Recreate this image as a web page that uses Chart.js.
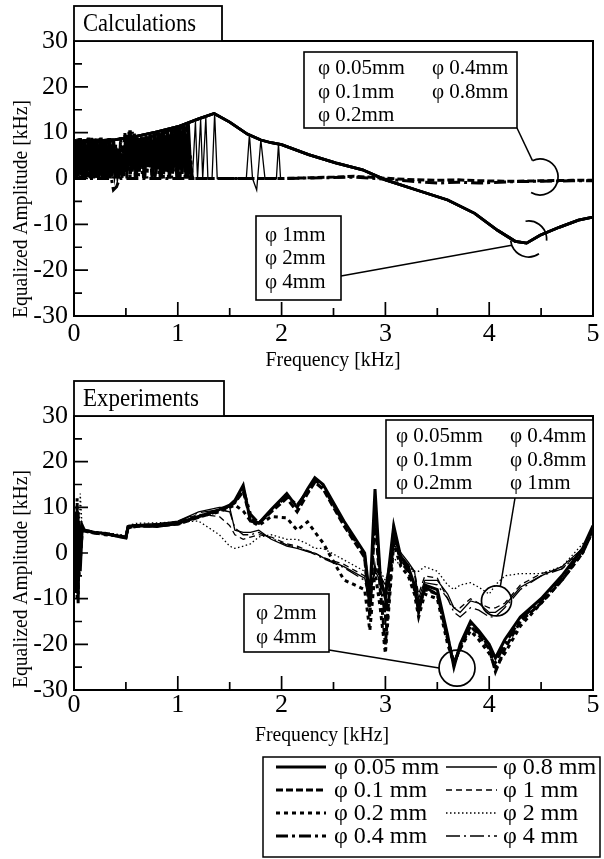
<!DOCTYPE html>
<html>
<head>
<meta charset="utf-8">
<title>Equalized amplitude vs frequency</title>
<script src="https://cdn.jsdelivr.net/npm/chart.js@4.4.1/dist/chart.umd.min.js"></script>
<style>
  html, body { margin: 0; padding: 0; background: #fff; }
  body { width: 604px; height: 859px; position: relative; overflow: hidden; }
  canvas { position: absolute; left: 0; }
  #calc-chart { top: 0; }
  #exp-chart { top: 380px; }
</style>
</head>
<body>
<canvas id="calc-chart" width="604" height="380"></canvas>
<canvas id="exp-chart" width="604" height="479"></canvas>
<script>
const SERIF = "'Liberation Serif', 'Times New Roman', serif";
const PHI = "\u03c6";

const diameterLabels = ["0.05 mm", "0.1 mm", "0.2 mm", "0.4 mm", "0.8 mm", "1 mm", "2 mm", "4 mm"];

const xMajorTicks = [0, 1, 2, 3, 4, 5];
const xMinorTicks = [0.5, 1.5, 2.5, 3.5, 4.5];
const yMajorTicks = [-30, -20, -10, 0, 10, 20, 30];
const yMinorTicks = [-25, -15, -5, 5, 15, 25];

// ---- Calculations (top panel) ----
const calcBandFreq = [0.00, 0.02, 0.04, 0.06, 0.08, 0.10, 0.12, 0.14, 0.16, 0.18, 0.20, 0.22, 0.24, 0.26, 0.28,
  0.30, 0.32, 0.34, 0.36, 0.38, 0.40, 0.42, 0.44, 0.46, 0.48, 0.50, 0.52, 0.54, 0.56, 0.58, 0.60, 0.62, 0.64,
  0.66, 0.68, 0.70, 0.72, 0.74, 0.76, 0.78, 0.80, 0.82, 0.84, 0.86, 0.88, 0.90, 0.92, 0.94, 0.96, 0.98, 1.00,
  1.02, 1.04, 1.06, 1.08, 1.10, 1.12, 1.14];
const calcBand005 = [0, 8.5, 0.5, 8.8, 0, 8.6, 0.3, 8.9, 0, 8.4, 0.5, 8.7, 0, 8.9, 0.2, 8.5, 0, 8.8, 0.4, 8.6,
  0, 6.5, 1, 5.5, 0.5, 9.5, 2, 10.5, 1.5, 9.8, 0, 8.8, 2.5, 9, 0, 9.2, 3, 9.5, 0.5, 9.8,
  2, 10, 0, 10.3, 1.5, 10.6, 0, 10.8, 2.5, 11, 0, 11.3, 1, 11.6, 0, 11.9, 3, 0];
const calcBand02 = [8.2, 0.3, 8.7, 0, 8.5, 0.4, 8.9, 0, 8.6, 0.2, 8.8, 0, 8.4, 0.5, 8.7, 0, 8.9, 0.3, 8.5, 0,
  7.5, 1.5, 5, 0, 6.5, 1, 9.8, 0, 10.2, 2, 9.4, 0.5, 8.6, 1, 9.1, 0, 9.3, 2, 9.6, 0,
  9.9, 1, 10.1, 0, 10.4, 2, 10.7, 0, 10.9, 1.5, 11.1, 0, 11.4, 2.5, 11.7, 0, 5, 0];

// 0.1 mm: oscillating band (odd 0.01 steps) then along the zero line
const calcFreq01 = [0.01, 0.03, 0.05, 0.07, 0.09, 0.11, 0.13, 0.15, 0.17, 0.19, 0.21, 0.23, 0.25, 0.27, 0.29,
  0.31, 0.33, 0.35, 0.37, 0.39, 0.41, 0.43, 0.45, 0.47, 0.49, 0.51, 0.53, 0.55, 0.57, 0.59, 0.61, 0.63, 0.65,
  0.67, 0.69, 0.71, 0.73, 0.75, 0.77, 0.79, 0.81, 0.83, 0.85, 0.87, 0.89, 0.91, 0.93, 0.95, 0.97, 0.99, 1.01,
  1.03, 1.05, 1.07, 1.09, 1.11, 1.13,
  1.16, 1.5, 2.0, 2.5, 2.7, 2.9, 3.2, 3.5, 3.7, 3.9, 4.2, 4.5, 4.8, 5.0];
const calcAmp01 = [8.6, 0, 8.8, 0.4, 8.5, 0, 8.7, 0.3, 8.9, 0, 8.6, 0.2, 8.8, 0, 8.5, 0.4, 8.7, 0, 6, 1.5,
  5.8, 0, 9, 1, 10, 0, 10.2, 2, 9.3, 0, 8.9, 1.5, 9.1, 0, 9.4, 2.5, 9.7, 0, 10, 1,
  10.2, 0, 10.5, 2, 10.8, 0, 11, 1, 11.2, 0, 11.5, 2, 11.8, 0, 12, 1, 0,
  0, 0, 0, 0.3, 0.5, 0.2, -0.2, -0.4, -0.3, -0.5, -0.6, -0.5, -0.4, -0.4];

const calcZeroFreq = [0, 0.36, 0.38, 0.41, 0.44, 1.0, 1.5, 2.0, 2.5, 2.7, 2.9, 3.2, 3.5, 3.7, 3.9, 4.2, 4.5, 4.8, 5.0];
const calcZero04 = [0, 0, -2.5, -1.8, 0, 0, 0, 0, 0.2, 0.3, 0, -0.5, -1, -0.8, -1, -0.7, -0.6, -0.5, -0.5];

const calcSpikeFreq = [1.14, 1.17, 1.19, 1.22, 1.24, 1.27, 1.29, 1.33, 1.355, 1.38, 1.66, 1.69, 1.72, 1.76, 1.80, 1.84, 1.95, 1.97, 1.99];
const calcSpike08 = [0, 12.4, 0, 12.8, 0, 13.3, 0, 0, 14.2, 0, 0, 9.6, 0, -2.5, 8.4, 0, 0, 7.5, 0];

const calcCurveFreq = [0, 0.2, 0.4, 0.6, 0.8, 1.0, 1.2, 1.35, 1.5, 1.67, 1.8, 1.9, 2.0, 2.26, 2.52, 2.78, 3.0,
  3.3, 3.6, 3.86, 4.08, 4.25, 4.36, 4.49, 4.68, 4.86, 5.0];
const calcCurveLarge = [8, 8.2, 8.5, 9.2, 10.2, 11.3, 13, 14.2, 12.3, 9.7, 8.4, 7.8, 7.4, 5.2, 3.4, 1.9, -0.3,
  -2.5, -4.7, -7.6, -11.3, -13.7, -14.1, -12.4, -10.6, -9.1, -8.4];

// ---- Experiments (bottom panel) ----
const expFreq = [0, 0.01, 0.02, 0.03, 0.04, 0.05, 0.06, 0.08, 0.1, 0.2, 0.3, 0.45, 0.5, 0.52, 0.6, 0.8,
  1.0, 1.2, 1.4, 1.5, 1.55, 1.63, 1.7, 1.78, 1.9, 2.05, 2.15, 2.25, 2.32, 2.4, 2.6, 2.8,
  2.85, 2.9, 2.95, 3.0, 3.08, 3.15, 3.22, 3.28, 3.32, 3.38, 3.5, 3.6, 3.66, 3.72, 3.82, 3.9,
  4.0, 4.06, 4.15, 4.3, 4.5, 4.7, 4.9, 5.0];
const exp005 = [0, 9, -8, 10, -11, 7, -4, 6, 5, 4.5, 4.3, 3.5, 3.3, 5.8, 6, 5.8,
  6.5, 8, 9.5, 10.5, 11.5, 14.8, 7, 6.5, 9.5, 13, 10, 14, 16.5, 15, 7, 0,
  -10, 14, -5, -10, 6, -1, -3, -7, -13, -7, -8, -18, -25, -20, -15, -17,
  -20, -23, -19, -14, -10, -5, 1, 6];
const exp01 = [0, -6, 8, -10, 9, -5, 4, 5, 4.8, 4.3, 4.2, 3.6, 3.4, 5.5, 5.8, 6,
  6.3, 7.8, 9.2, 10.2, 11, 13.5, 7.5, 6.5, 9, 12, 9, 13, 15.5, 14, 6, -1,
  -14, 8, -8, -20, 4, -2, -4, -8, -12, -8, -9, -19, -24, -21, -16, -18,
  -21, -26, -21, -15, -11, -6, 0, 5];
const exp02 = [0, 5, -6, 12, -9, 4, -2, 5, 5, 4.4, 4, 3.7, 3.5, 5.5, 6, 6.2,
  6.6, 8, 9, 10, 10.5, 9.2, 7, 6, 8, 7.7, 5, 6.8, 4.6, 2.2, -5.9, -8,
  -17, -4, -12, -22, 2, -3, -5, -9, -14, -9, -10, -20, -24, -21, -17, -19,
  -22, -25, -22, -16, -11, -6, 0, 5];
const exp04 = [0, 7, -9, 8, -6, 5, 2, 5, 5, 4.5, 4.2, 3.6, 3.4, 5.6, 6, 5.9,
  6.4, 8, 9.4, 10.3, 11.2, 14, 8.5, 6.5, 9.3, 12.5, 10.5, 13.5, 16, 14.5, 6.5, -0.5,
  -12, 10, -6, -14, 5, -1.5, -3.5, -7.5, -12, -7.5, -9, -18.5, -24.5, -20.5, -15.5, -17.5,
  -20.5, -24, -20, -14.5, -10.5, -5.5, 0.5, 5.5];
const exp08 = [0, 4, -3, 6, -2, 3, 1, 5, 5, 4.6, 4.4, 3.8, 3.6, 6, 6.2, 6.4,
  7, 9, 10, 10, 5, 4.5, 4.5, 5, 3, 1.5, 1, 0.3, 0, -1, -3, -5.5,
  -10, -3, -5, -7, 3, 0, -2, -4, -10, -6, -6, -9, -12, -13, -10.5, -11,
  -13, -13, -11.5, -7.5, -5, -3, 1, 5];
const exp1 = [0, 3, -2, 5, -1, 4, 2, 5, 5, 4.5, 4.3, 3.8, 3.5, 5.8, 6, 6.2,
  6.8, 8.5, 8, 6, 4, 3, 3.5, 4, 3.5, 2, 1.5, 0.5, 0, -1, -2.5, -5,
  -9, -3.5, -5, -8, 1, -1, -2.5, -4, -9, -5, -5.5, -10, -12, -12, -10, -11,
  -12, -12, -11, -7, -4.5, -3.5, 1, 5];
const exp2 = [0, 3, -1, 4, 0, 3, 13, 5, 5.2, 4.6, 4.5, 4, 3.8, 6, 6.5, 6.6,
  6.8, 7, 4, 1.5, 1, 1.5, 2, 3.5, 4, 3, 3, 2, 1, 1, -1.5, -4,
  -7, -3, -4, -6, -1, -3, -3, -4, -4, -3, -4, -7, -8, -7, -6.5, -7.5,
  -9, -7, -5, -4.5, -4.5, -3, 2, 4];
const exp4 = [0, 5, -4, 7, -3, 2, 1, 5, 5, 4.5, 4.3, 3.7, 3.5, 5.9, 6.1, 6.3,
  6.9, 8.8, 9.5, 9, 5.5, 4, 4, 4.5, 3.2, 1.8, 1.2, 0.4, -0.3, -1.2, -3.2, -6,
  -11, -4, -6, -9, 2, -0.5, -2.5, -4.5, -11, -6.5, -7, -10, -13, -14, -12, -12.5,
  -14, -14, -12, -8, -5, -3.5, 0.5, 5];

const lineStyles = {
  "0.05 mm": { width: 3, dash: [] },
  "0.1 mm": { width: 3, dash: [7, 3] },
  "0.2 mm": { width: 3, dash: [4, 4] },
  "0.4 mm": { width: 3, dash: [12, 4, 3, 4] },
  "0.8 mm": { width: 1.3, dash: [] },
  "1 mm": { width: 1.3, dash: [6, 4] },
  "2 mm": { width: 1.3, dash: [1.5, 2.5] },
  "4 mm": { width: 1.3, dash: [14, 4, 2, 4] },
};

function toPoints(xs, ys) {
  return xs.map((x, i) => ({ x, y: ys[i] }));
}

function makeDataset(label, xs, ys, override) {
  const style = Object.assign({}, lineStyles[label], override || {});
  return {
    label,
    data: toPoints(xs, ys),
    borderColor: "#000",
    backgroundColor: "#000",
    borderWidth: style.width,
    borderDash: style.dash,
    pointRadius: 0,
    tension: 0,
    fill: false,
  };
}

function drawFitted(ctx, text, cx, cy, width, size, rotate) {
  ctx.save();
  ctx.font = `${size}px ${SERIF}`;
  const natural = ctx.measureText(text).width;
  ctx.translate(cx, cy);
  if (rotate) ctx.rotate(-Math.PI / 2);
  ctx.scale(width / natural, 1);
  ctx.textAlign = "center";
  ctx.textBaseline = "middle";
  ctx.fillStyle = "#000";
  ctx.fillText(text, 0, 0);
  ctx.restore();
}

function drawNote(ctx, note, xs, ys) {
  const cx = xs.getPixelForValue(note.mark.freq);
  const cy = ys.getPixelForValue(note.mark.amp);
  const r = note.mark.r;
  ctx.lineWidth = 1.7;
  note.mark.arcs.forEach(([a0, a1]) => {
    ctx.beginPath();
    ctx.arc(cx, cy, r, (a0 * Math.PI) / 180, (a1 * Math.PI) / 180);
    ctx.stroke();
  });
  const ang = (note.leader.angle * Math.PI) / 180;
  ctx.lineWidth = 1.5;
  ctx.beginPath();
  ctx.moveTo(note.leader.from[0], note.leader.from[1]);
  ctx.lineTo(cx + r * Math.cos(ang), cy + r * Math.sin(ang));
  ctx.stroke();

  const b = note.box;
  ctx.fillStyle = "#fff";
  ctx.fillRect(b.x, b.y, b.w, b.h);
  ctx.lineWidth = 1.6;
  ctx.strokeRect(b.x, b.y, b.w, b.h);
  ctx.fillStyle = "#000";
  ctx.font = `21px ${SERIF}`;
  ctx.textAlign = "left";
  ctx.textBaseline = "middle";
  note.rows.forEach((row, i) => {
    row.forEach((t, j) => ctx.fillText(`${PHI} ${t}`, b.x + note.colX[j], b.y + note.rowY[i]));
  });
}

function drawLegend(chart, lg) {
  const ctx = chart.ctx;
  ctx.lineWidth = 1.5;
  ctx.setLineDash([]);
  ctx.strokeRect(lg.x, lg.y, lg.w, lg.h);
  ctx.font = `24px ${SERIF}`;
  ctx.textAlign = "left";
  ctx.textBaseline = "middle";
  ctx.fillStyle = "#000";
  chart.data.datasets.forEach((ds, i) => {
    const col = Math.floor(i / 4);
    const y = lg.rowY[i % 4];
    const [x0, x1] = lg.sample[col];
    ctx.save();
    ctx.lineWidth = ds.borderWidth;
    ctx.setLineDash(ds.borderDash || []);
    ctx.beginPath();
    ctx.moveTo(x0, y);
    ctx.lineTo(x1, y);
    ctx.stroke();
    ctx.restore();
    ctx.fillText(`${PHI} ${ds.label}`, lg.textX[col], y + 1);
  });
}

const decorPlugin = {
  id: "decor",
  afterDraw(chart, args, opts) {
    const { ctx, chartArea: area } = chart;
    const xs = chart.scales.x;
    const ys = chart.scales.y;
    ctx.save();
    ctx.setLineDash([]);
    ctx.strokeStyle = "#000";

    ctx.lineWidth = 1.7;
    ctx.beginPath();
    yMajorTicks.concat(yMinorTicks).forEach((v) => {
      const py = ys.getPixelForValue(v);
      const len = yMajorTicks.includes(v) ? 14 : 8;
      ctx.moveTo(area.left, py);
      ctx.lineTo(area.left + len, py);
    });
    xMajorTicks.concat(xMinorTicks).forEach((v) => {
      const px = xs.getPixelForValue(v);
      const len = xMajorTicks.includes(v) ? 14 : 8;
      ctx.moveTo(px, area.bottom);
      ctx.lineTo(px, area.bottom - len);
    });
    ctx.stroke();

    ctx.lineWidth = 2;
    ctx.strokeRect(area.left, area.top, area.right - area.left, area.bottom - area.top);

    const tag = opts.tag;
    ctx.fillStyle = "#fff";
    ctx.fillRect(tag.x, tag.y, tag.w, tag.h);
    ctx.lineWidth = 1.8;
    ctx.strokeRect(tag.x, tag.y, tag.w, tag.h);
    drawFitted(ctx, tag.text, tag.x + 9 + tag.textWidth / 2, tag.y + tag.h / 2 + 1, tag.textWidth, 25, false);

    drawFitted(ctx, "Equalized Amplitude [kHz]", opts.yTitle.cx, opts.yTitle.cy, opts.yTitle.width, 20, true);
    drawFitted(ctx, "Frequency [kHz]", opts.xTitle.cx, opts.xTitle.cy, opts.xTitle.width, 21, false);

    ctx.strokeStyle = "#000";
    opts.notes.forEach((note) => drawNote(ctx, note, xs, ys));

    if (opts.legend) drawLegend(chart, opts.legend);
    ctx.restore();
  },
};

function buildOptions(cfg) {
  return {
    responsive: false,
    animation: false,
    devicePixelRatio: 1,
    layout: { padding: { left: 0, right: 11, top: cfg.top, bottom: 0 } },
    plugins: {
      legend: { display: false },
      tooltip: { enabled: false },
      decor: cfg.decor,
    },
    scales: {
      x: {
        type: "linear",
        min: 0,
        max: 5,
        afterBuildTicks: (s) => { s.ticks = xMajorTicks.map((value) => ({ value })); },
        ticks: { color: "#000", font: { family: SERIF, size: 26 }, padding: cfg.xPad, maxRotation: 0, autoSkip: false },
        grid: { display: false, drawTicks: false },
        border: { display: false },
        afterFit: (s) => { s.height = cfg.xHeight; },
      },
      y: {
        type: "linear",
        min: -30,
        max: 30,
        afterBuildTicks: (s) => { s.ticks = yMajorTicks.map((value) => ({ value })); },
        ticks: { color: "#000", font: { family: SERIF, size: 26 }, padding: 6 },
        grid: { display: false, drawTicks: false },
        border: { display: false },
        afterFit: (s) => { s.width = 74; },
      },
    },
  };
}

const solidThick = { width: 2.8, dash: [] };
const bandThick = { width: 3.4 };
const calcDatasets = [
  makeDataset("0.05 mm", calcBandFreq, calcBand005, bandThick),
  makeDataset("0.1 mm", calcFreq01, calcAmp01),
  makeDataset("0.2 mm", calcBandFreq, calcBand02, bandThick),
  makeDataset("0.4 mm", calcZeroFreq, calcZero04),
  makeDataset("0.8 mm", calcSpikeFreq, calcSpike08),
  makeDataset("1 mm", calcCurveFreq, calcCurveLarge, solidThick),
  makeDataset("2 mm", calcCurveFreq, calcCurveLarge, solidThick),
  makeDataset("4 mm", calcCurveFreq, calcCurveLarge, solidThick),
];

const expSeries = [exp005, exp01, exp02, exp04, exp08, exp1, exp2, exp4];
const expDatasets = diameterLabels.map((label, i) => makeDataset(label, expFreq, expSeries[i]));

new Chart(document.getElementById("calc-chart"), {
  type: "line",
  data: { datasets: calcDatasets },
  options: buildOptions({
    top: 41,
    xPad: 3,
    xHeight: 64,
    decor: {
      tag: { text: "Calculations", x: 74, y: 6, w: 148, h: 35, textWidth: 113 },
      yTitle: { cx: 22, cy: 209, width: 218 },
      xTitle: { cx: 333, cy: 360, width: 135 },
      notes: [
        {
          box: { x: 304, y: 52, w: 213, h: 76 },
          rows: [["0.05mm", "0.4mm"], ["0.1mm", "0.8mm"], ["0.2mm"]],
          colX: [14, 128],
          rowY: [16, 40, 63],
          leader: { from: [517, 128], angle: -115 },
          mark: { freq: 4.49, amp: 0.33, r: 18, arcs: [[-115, 120]] },
        },
        {
          box: { x: 256, y: 216, w: 85, h: 84 },
          rows: [["1mm"], ["2mm"], ["4mm"]],
          colX: [9],
          rowY: [19, 42, 66],
          leader: { from: [341, 276], angle: 160 },
          mark: { freq: 4.38, amp: -13.2, r: 18, arcs: [[-100, 5], [55, 175]] },
        },
      ],
    },
  }),
  plugins: [decorPlugin],
});

new Chart(document.getElementById("exp-chart"), {
  type: "line",
  data: { datasets: expDatasets },
  options: buildOptions({
    top: 36,
    xPad: 0,
    xHeight: 169,
    decor: {
      tag: { text: "Experiments", x: 74, y: 1, w: 150, h: 35, textWidth: 116 },
      yTitle: { cx: 22, cy: 199, width: 218 },
      xTitle: { cx: 322, cy: 355, width: 134 },
      notes: [
        {
          box: { x: 386, y: 40, w: 207, h: 78 },
          rows: [["0.05mm", "0.4mm"], ["0.1mm", "0.8mm"], ["0.2mm", "1mm"]],
          colX: [10, 124],
          rowY: [16, 40, 63],
          leader: { from: [515, 118], angle: -75 },
          mark: { freq: 4.07, amp: -10.5, r: 15, arcs: [[0, 360]] },
        },
        {
          box: { x: 244, y: 214, w: 85, h: 58 },
          rows: [["2mm"], ["4mm"]],
          colX: [12],
          rowY: [19, 43],
          leader: { from: [329, 270], angle: 180 },
          mark: { freq: 3.69, amp: -25.2, r: 18, arcs: [[0, 360]] },
        },
      ],
      legend: {
        x: 263, y: 377, w: 337, h: 100,
        rowY: [387, 410, 433, 456],
        sample: [[276, 326], [446, 497]],
        textX: [334, 503],
      },
    },
  }),
  plugins: [decorPlugin],
});
</script>
</body>
</html>
